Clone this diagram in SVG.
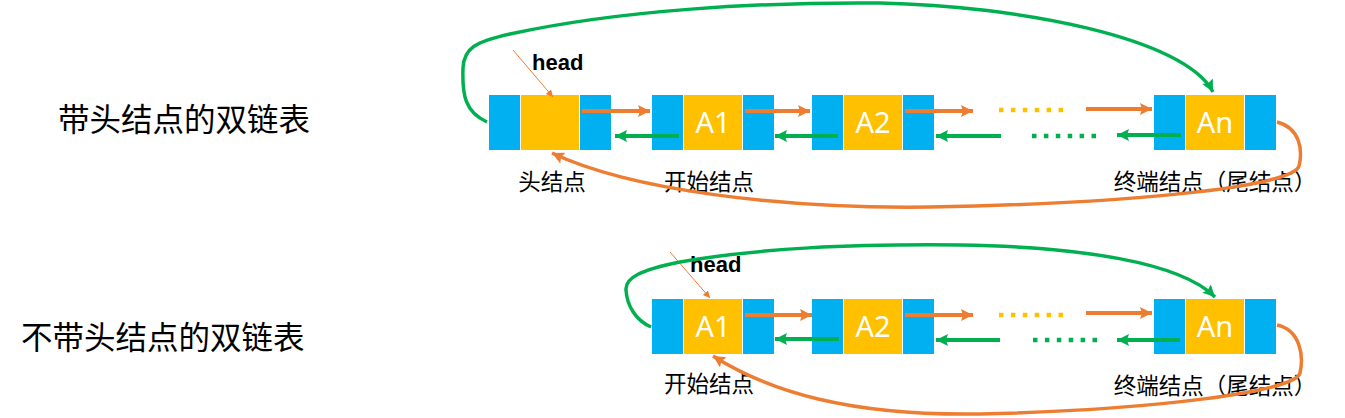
<svg xmlns="http://www.w3.org/2000/svg" width="1345" height="418" viewBox="0 0 1345 418">
<style>
.b{fill:#00B0F0}
.y{fill:#FFC000}
.v{font-family:"Noto Sans","Liberation Sans",sans-serif;font-size:29px;fill:#fff;text-anchor:middle}
.cj{font-family:"Noto Sans CJK SC",sans-serif;fill:#000}
.lb{font-size:22.5px;text-anchor:middle}
.tt{font-size:31.5px}
.hd{font-family:"Liberation Sans",Arial,sans-serif;font-weight:bold;font-size:22px;fill:#000}
.or{stroke:#ED7D31;stroke-width:4;fill:none}
.gr{stroke:#00B050;stroke-width:4;fill:none}
.oc{stroke:#ED7D31;stroke-width:3.5;fill:none}
.gc{stroke:#00B050;stroke-width:3.5;fill:none}
.od{stroke:#FFC000;stroke-width:4.5;stroke-dasharray:4.5 7.4;fill:none}
.gd{stroke:#00B050;stroke-width:4.5;stroke-dasharray:4.5 7.4;fill:none}
.hp{stroke:#ED7D31;stroke-width:1;fill:none}
</style>
<defs>
<marker id="ao" markerUnits="userSpaceOnUse" markerWidth="14" markerHeight="14" refX="12" refY="6" orient="auto"><path d="M0,0 L12,6 L0,12 L2,6 z" fill="#ED7D31"/></marker>
<marker id="ag" markerUnits="userSpaceOnUse" markerWidth="14" markerHeight="14" refX="12" refY="6" orient="auto"><path d="M0,0 L12,6 L0,12 L2,6 z" fill="#00B050"/></marker>
<marker id="as" markerUnits="userSpaceOnUse" markerWidth="10" markerHeight="10" refX="7" refY="3.5" orient="auto"><path d="M0,0 L7,3.5 L0,7 z" fill="#ED7D31"/></marker>
</defs>

<g id="title1"><text class="cj tt" x="58" y="131">带头结点的双链表</text></g>
<g id="title2"><text class="cj tt" x="21" y="349">不带头结点的双链表</text></g>

<g id="headnode">
<rect class="b" x="489" y="95" width="31" height="55"/><rect class="y" x="521" y="95" width="58" height="55"/><rect class="b" x="580" y="95" width="31" height="55"/>
<text class="cj lb" x="552" y="190">头结点</text>
</g>
<g id="top-a1">
<rect class="b" x="652" y="95" width="31" height="55"/><rect class="y" x="684" y="95" width="58" height="55"/><rect class="b" x="743" y="95" width="31" height="55"/>
<text class="v" x="713" y="133">A1</text>
<text class="cj lb" x="709" y="190">开始结点</text>
</g>
<g id="top-a2">
<rect class="b" x="812" y="95" width="31" height="55"/><rect class="y" x="844" y="95" width="58" height="55"/><rect class="b" x="903" y="95" width="31" height="55"/>
<text class="v" x="873" y="133">A2</text>
</g>
<g id="top-an">
<rect class="b" x="1154" y="95" width="31" height="55"/><rect class="y" x="1186" y="95" width="58" height="55"/><rect class="b" x="1245" y="95" width="31" height="55"/>
<text class="v" x="1215" y="133">An</text>
<text class="cj lb" x="1215" y="190">终端结点（尾结点）</text>
</g>
<g id="top-head"><text class="hd" x="532" y="70">head</text></g>

<g id="bot-a1">
<rect class="b" x="652" y="299" width="31" height="55"/><rect class="y" x="684" y="299" width="58" height="55"/><rect class="b" x="743" y="299" width="31" height="55"/>
<text class="v" x="713" y="337">A1</text>
<text class="cj lb" x="709" y="392">开始结点</text>
</g>
<g id="bot-a2">
<rect class="b" x="812" y="299" width="31" height="55"/><rect class="y" x="844" y="299" width="58" height="55"/><rect class="b" x="903" y="299" width="31" height="55"/>
<text class="v" x="873" y="337">A2</text>
</g>
<g id="bot-an">
<rect class="b" x="1154" y="299" width="31" height="55"/><rect class="y" x="1186" y="299" width="58" height="55"/><rect class="b" x="1245" y="299" width="31" height="55"/>
<text class="v" x="1215" y="337">An</text>
<text class="cj lb" x="1215" y="394">终端结点（尾结点）</text>
</g>
<g id="bot-head"><text class="hd" x="690" y="272">head</text></g>

<g id="connectors">
<line class="hp" x1="513" y1="50" x2="553" y2="97" marker-end="url(#as)"/>
<line class="or" x1="582" y1="111" x2="650" y2="111" marker-end="url(#ao)"/>
<line class="gr" x1="679" y1="136" x2="615" y2="136" marker-end="url(#ag)"/>
<line class="or" x1="745" y1="111" x2="810" y2="111" marker-end="url(#ao)"/>
<line class="gr" x1="838" y1="136" x2="775" y2="136" marker-end="url(#ag)"/>
<line class="or" x1="905" y1="111" x2="973" y2="111" marker-end="url(#ao)"/>
<line class="gr" x1="1001" y1="136" x2="936" y2="136" marker-end="url(#ag)"/>
<line class="od" x1="999" y1="110" x2="1064" y2="110"/>
<line class="gd" x1="1032" y1="136" x2="1097" y2="136"/>
<line class="or" x1="1086" y1="109" x2="1152" y2="109" marker-end="url(#ao)"/>
<line class="gr" x1="1181" y1="135" x2="1117" y2="135" marker-end="url(#ag)"/>
<path class="gc" d="M487,122 C465,112 462,95 463,68 C464,48 475,42 510,34 C620,10 760,2 880,3 C1020,6 1185,38 1213,92" marker-end="url(#ag)"/>
<path class="oc" d="M1277,122 C1300,128 1303,150 1299,166 C1294,185 1150,203 930,207 C780,209 630,190 552,153" marker-end="url(#ao)"/>

<line class="hp" x1="670" y1="252" x2="710" y2="298" marker-end="url(#as)"/>
<line class="or" x1="745" y1="315" x2="812" y2="315" marker-end="url(#ao)"/>
<line class="gr" x1="839" y1="339" x2="775" y2="339" marker-end="url(#ag)"/>
<line class="or" x1="905" y1="315" x2="973" y2="315" marker-end="url(#ao)"/>
<line class="gr" x1="1000" y1="340" x2="936" y2="340" marker-end="url(#ag)"/>
<line class="od" x1="999" y1="315" x2="1064" y2="315"/>
<line class="gd" x1="1033" y1="340" x2="1098" y2="340"/>
<line class="or" x1="1086" y1="313" x2="1152" y2="313" marker-end="url(#ao)"/>
<line class="gr" x1="1180" y1="340" x2="1117" y2="340" marker-end="url(#ag)"/>
<path class="gc" d="M651,327 C635,320 627,305 626,290 C625,278 640,270 680,262 C760,248 850,244 960,245 C1080,247 1180,262 1215,297" marker-end="url(#ag)"/>
<path class="oc" d="M1277,325 C1300,330 1304,355 1300,373 C1296,392 1150,410 980,414 C850,416 770,392 713,356" marker-end="url(#ao)"/>
</g>
</svg>
